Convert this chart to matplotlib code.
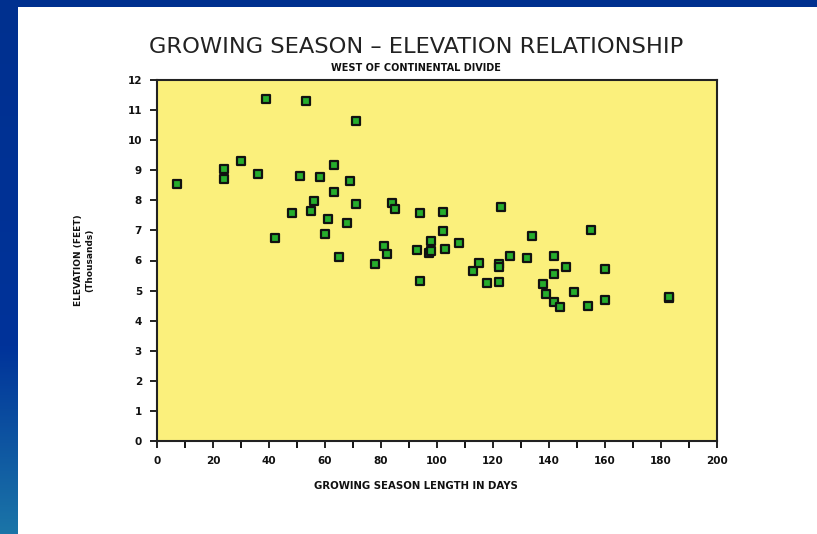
"""Growing season vs elevation scatter, west of the continental divide."""

import numpy as np
import matplotlib.pyplot as plt
from matplotlib.colors import LinearSegmentedColormap

# growing season length (days) and elevation (thousands of feet)
season_days = [7, 24, 24, 30, 36, 39, 53, 42, 51, 58, 63, 69, 71, 63, 56, 71,
               84, 85, 48, 55, 61, 68, 60, 81, 82, 65, 78, 93, 94, 94, 102,
               102, 98, 108, 97, 98, 103, 123, 113, 115, 118, 122, 122, 122,
               126, 132, 134, 138, 139, 142, 142, 146, 142, 144, 149, 154,
               155, 160, 160, 183, 183]
elevation_kft = [8.55, 9.05, 8.71, 9.30, 8.87, 11.36, 11.30, 6.76, 8.82, 8.77,
                 9.19, 8.64, 10.63, 8.27, 7.99, 7.87, 7.92, 7.71, 7.59, 7.64,
                 7.39, 7.24, 6.88, 6.48, 6.22, 6.13, 5.89, 6.35, 7.57, 5.33,
                 7.62, 6.99, 6.66, 6.57, 6.26, 6.32, 6.39, 7.79, 5.66, 5.92,
                 5.25, 5.88, 5.77, 5.29, 6.16, 6.08, 6.82, 5.23, 4.88, 6.16,
                 5.54, 5.79, 4.61, 4.45, 4.95, 4.49, 7.02, 5.73, 4.70, 4.75,
                 4.79]

x_ticks = list(range(0, 201, 20))
y_ticks = list(range(0, 13))

W, H = 817, 534
fig = plt.figure(figsize=(W / 100, H / 100), dpi=100)
fig.patch.set_facecolor('white')

# slide frame: blue strip on top and a gradient strip on the left
top = fig.add_axes([0, 1 - 7 / H, 1, 7 / H])
top.set_facecolor('#00308f')
top.set_xticks([])
top.set_yticks([])
for s in top.spines.values():
    s.set_visible(False)

side = fig.add_axes([0, 0, 18 / W, 1])
cmap = LinearSegmentedColormap.from_list(
    'frame', [(0, '#00308f'), (0.65, '#00339a'), (1, '#1b75a8')])
side.imshow(np.linspace(0, 1, 256).reshape(-1, 1), aspect='auto', cmap=cmap)
side.axis('off')

ax = fig.add_axes([157.3 / W, 1 - 441 / H, (716.7 - 157.3) / W, (441 - 80) / H])
ax.set_facecolor('#fbf07c')
ax.scatter(season_days, elevation_kft, marker='s', s=32, c='#26ad2c',
           edgecolors='#111111', linewidths=1.6, zorder=3)

ax.set_xlim(0, 200)
ax.set_ylim(0, 12)
ax.set_xticks(x_ticks)
ax.set_xticks(range(0, 201, 10), minor=True)
ax.set_yticks(y_ticks)
ax.tick_params(axis='both', direction='out', length=5, width=1.3,
               labelsize=7.5, colors='#111111')
ax.tick_params(axis='x', which='minor', direction='out', length=5, width=1.3)
ax.tick_params(axis='x', pad=6)
ax.tick_params(axis='y', pad=6)
for lbl in ax.get_xticklabels() + ax.get_yticklabels():
    lbl.set_fontweight('bold')
for s in ax.spines.values():
    s.set_linewidth(1.5)
    s.set_color('#222222')

fig.text(416 / W, 1 - 47 / H, 'GROWING SEASON \u2013 ELEVATION RELATIONSHIP',
         ha='center', va='center', fontsize=16.2, color='#222222')
fig.text(416 / W, 1 - 68 / H, 'WEST OF CONTINENTAL DIVIDE',
         ha='center', va='center', fontsize=7, fontweight='bold', color='#111111')
fig.text(416 / W, 1 - 486 / H, 'GROWING SEASON LENGTH IN DAYS',
         ha='center', va='center', fontsize=7.3, fontweight='bold', color='#111111')
fig.text(78 / W, 1 - 260 / H, 'ELEVATION (FEET)', rotation=90,
         ha='center', va='center', fontsize=6.5, fontweight='bold', color='#111111')
fig.text(90 / W, 1 - 260 / H, '(Thousands)', rotation=90,
         ha='center', va='center', fontsize=6.5, fontweight='bold', color='#111111')

fig.savefig('out.png', dpi=100)
